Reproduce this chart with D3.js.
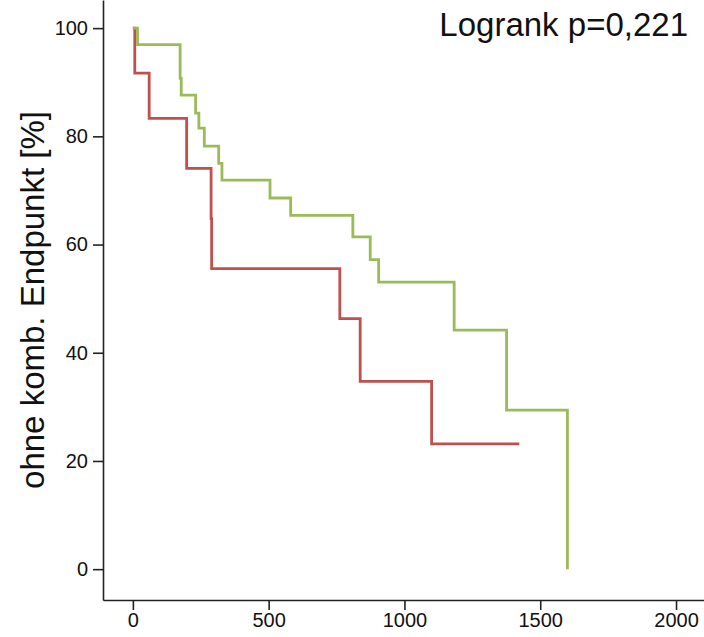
<!DOCTYPE html>
<html><head><meta charset="utf-8">
<script src="https://cdn.jsdelivr.net/npm/d3@7"></script>
<style>
body{margin:0;background:#fff;}
svg{display:block;font-family:Arial,"Liberation Sans",sans-serif;}
</style></head>
<body><svg id="c" width="704" height="637"></svg>
<script>
// Data (days, survival %)
const greenTimes = [0,17,174,178,231,243,263,316,328,505,581,810,874,905,1183,1376,1600];
const greenValues = [100,96.97,90.7,87.6,84.3,81.5,78.2,75.0,71.9,68.6,65.4,61.4,57.2,53.05,44.2,29.4,0];
const redTimes = [0,7,60,198,288,290,762,837,1100,1423];
const redValues = [100,91.67,83.33,74.07,64.8,55.56,46.3,34.72,23.15,23.15];
const xTicks = [0,500,1000,1500,2000];
const yTicks = [0,20,40,60,80,100];
const yTitle = "ohne komb. Endpunkt [%]";
const pText = "Logrank p=0,221";

const svg = d3.select("#c");
const x = d3.scaleLinear().domain([-110,2103]).range([103,704]);
const y = d3.scaleLinear().domain([-5.7,105.2]).range([600,0]);

const fs = "20px";
const gx = svg.append("g").attr("transform","translate(0,600)")
  .call(d3.axisBottom(x).tickValues(xTicks).tickFormat(d3.format("d")).tickSize(10).tickSizeOuter(0).tickPadding(3));
const gy = svg.append("g").attr("transform","translate(103,0)")
  .call(d3.axisLeft(y).tickValues(yTicks).tickFormat(d3.format("d")).tickSize(10).tickSizeOuter(0).tickPadding(5));
[gx,gy].forEach(g=>{
  g.selectAll("path,line").attr("stroke","#222").attr("stroke-width",1.6);
  g.selectAll("text").attr("font-size",fs).attr("fill","#111").attr("font-family","Arial,'Liberation Sans',sans-serif");
});

const line = d3.line().x(d=>x(d[0])).y(d=>y(d[1])).curve(d3.curveStepAfter);
const series = [
  {t:redTimes, v:redValues, c:"#c0504d"},
  {t:greenTimes, v:greenValues, c:"#9bbb59"}
];
series.forEach(s=>{
  svg.append("path").datum(s.t.map((t,i)=>[t,s.v[i]]))
    .attr("d",line).attr("fill","none").attr("stroke",s.c).attr("stroke-width",2.8);
});

svg.append("text").attr("transform","translate(44,300) rotate(-90)")
  .attr("text-anchor","middle").attr("font-size","33px").attr("fill","#111").text(yTitle);
svg.append("text").attr("x",688).attr("y",36).attr("text-anchor","end")
  .attr("font-size","33px").attr("fill","#111").text(pText);
</script></body></html>
